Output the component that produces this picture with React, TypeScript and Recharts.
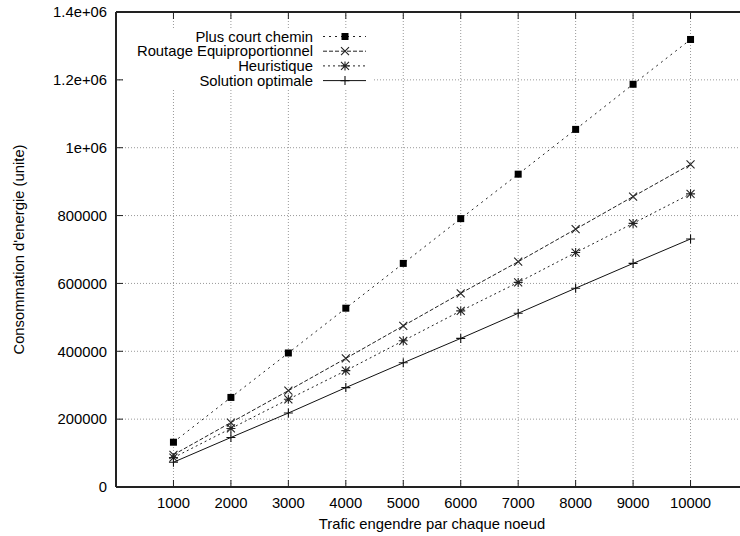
import React from 'react';
import { LineChart, Line, XAxis, YAxis, CartesianGrid, Legend, Label } from 'recharts';

// valeurs
const trafic = [1000, 2000, 3000, 4000, 5000, 6000, 7000, 8000, 9000, 10000];
const plusCourtChemin = [132000, 264000, 395000, 527000, 659000, 791000, 922000, 1054000, 1187000, 1319000];
const routageEquiproportionnel = [95000, 190000, 284000, 379000, 475000, 571000, 664000, 760000, 856000, 951000];
const heuristique = [86500, 172500, 258500, 343000, 431000, 519000, 603000, 691000, 777000, 864000];
const solutionOptimale = [73000, 146000, 218000, 293000, 366000, 438000, 512000, 586000, 659000, 731000];

const xTicks = [1000, 2000, 3000, 4000, 5000, 6000, 7000, 8000, 9000, 10000];
const yTicks = [0, 200000, 400000, 600000, 800000, 1000000, 1200000, 1400000];
const yTickLabels = ['0', '200000', '400000', '600000', '800000', '1e+06', '1.2e+06', '1.4e+06'];

const data = trafic.map((t, i) => ({
  trafic: t,
  pcc: plusCourtChemin[i],
  routage: routageEquiproportionnel[i],
  heur: heuristique[i],
  opt: solutionOptimale[i],
}));

type MarkerKind = 'square' | 'cross' | 'star' | 'plus';

const series: { key: string; name: string; marker: MarkerKind; dash?: string; color: string }[] = [
  { key: 'pcc', name: 'Plus court chemin', marker: 'square', dash: '2 4', color: '#222' },
  { key: 'routage', name: 'Routage Equiproportionnel', marker: 'cross', dash: '4 2', color: '#222' },
  { key: 'heur', name: 'Heuristique', marker: 'star', dash: '2 3', color: '#222' },
  { key: 'opt', name: 'Solution optimale', marker: 'plus', color: '#111' },
];

const FONT = '"Liberation Sans", Arial, Helvetica, sans-serif';
const FS = 14.8;

function Marker({ kind, cx, cy, color }: { kind: MarkerKind; cx: number; cy: number; color: string }) {
  const s = 4;
  const cross = `M${cx - s},${cy - s}L${cx + s},${cy + s}M${cx - s},${cy + s}L${cx + s},${cy - s}`;
  const plus = `M${cx - s - 0.5},${cy}L${cx + s + 0.5},${cy}M${cx},${cy - s - 0.5}L${cx},${cy + s + 0.5}`;
  if (kind === 'square') return <rect x={cx - 3.5} y={cy - 3.5} width={7} height={7} fill="#000" />;
  if (kind === 'cross') return <path d={cross} stroke={color} strokeWidth={1.1} fill="none" />;
  if (kind === 'star') return <path d={cross + plus} stroke={color} strokeWidth={1.1} fill="none" />;
  return <path d={plus} stroke={color} strokeWidth={1.1} fill="none" />;
}

const renderLegend = () => (
  <svg width={250} height={60} style={{ display: 'block', background: '#fff' }}>
    {series.map((s, i) => {
      const y = 7.5 + i * 14.7;
      return (
        <g key={s.key}>
          <text x={190} y={y} textAnchor="end" dominantBaseline="central" fontSize={FS} fontFamily={FONT} fill="#000">
            {s.name}
          </text>
          <line x1={200} x2={243} y1={y} y2={y} stroke={s.color} strokeWidth={1} strokeDasharray={s.dash} />
          <Marker kind={s.marker} cx={222} cy={y} color={s.color} />
        </g>
      );
    })}
  </svg>
);

const renderYTitle = (props: any) => {
  const vb = props.viewBox || { x: 0, y: 12, width: 116, height: 475 };
  const cx = vb.x + 19;
  const cy = vb.y + vb.height / 2;
  return (
    <text x={cx} y={cy} transform={`rotate(-90 ${cx} ${cy})`} textAnchor="middle" dominantBaseline="central" fontSize={FS} fontFamily={FONT} fill="#000">
      Consommation d'energie (unite)
    </text>
  );
};

const renderXTitle = (props: any) => {
  const vb = props.viewBox || { x: 116, y: 487, width: 632, height: 49 };
  return (
    <text x={vb.x + vb.width / 2} y={vb.y + 42} textAnchor="middle" fontSize={FS} fontFamily={FONT} fill="#000">
      Trafic engendre par chaque noeud
    </text>
  );
};

const noLabel = () => <g />;

export default function App() {
  return (
    <div style={{ position: 'fixed', left: 0, top: 0, width: 740, height: 536, overflow: 'hidden', background: '#fff' }}>
      <LineChart width={760} height={536} data={data} margin={{ top: 0, right: 12, bottom: 0, left: 0 }}>
        <CartesianGrid stroke="#999" strokeDasharray="1 2" strokeWidth={1} />
        <XAxis
          dataKey="trafic"
          type="number"
          domain={[0, 11000]}
          ticks={xTicks}
          height={49}
          tickSize={-7}
          tickMargin={17}
          stroke="#222"
          axisLine={{ stroke: '#222', strokeWidth: 2 }}
          tickLine={{ stroke: '#222', strokeWidth: 1 }}
          tick={{ fontSize: FS, fill: '#000', fontFamily: FONT }}
        >
          <Label content={renderXTitle} />
        </XAxis>
        <XAxis
          xAxisId="top"
          orientation="top"
          dataKey="trafic"
          type="number"
          domain={[0, 11000]}
          allowDataOverflow
          ticks={xTicks}
          height={12}
          tickSize={-7}
          axisLine={{ stroke: '#222', strokeWidth: 2 }}
          tickLine={{ stroke: '#222', strokeWidth: 1 }}
          tick={noLabel}
        />
        <YAxis
          type="number"
          domain={[0, 1400000]}
          ticks={yTicks}
          width={116}
          tickSize={-7}
          tickMargin={16}
          axisLine={{ stroke: '#222', strokeWidth: 2 }}
          tickLine={{ stroke: '#222', strokeWidth: 1 }}
          tick={{ fontSize: FS, fill: '#000', fontFamily: FONT }}
          tickFormatter={(v: number) => yTickLabels[yTicks.indexOf(v)] ?? String(v)}
        >
          <Label content={renderYTitle} />
        </YAxis>
        <Legend
          layout="horizontal"
          verticalAlign="middle"
          align="center"
          content={renderLegend}
          wrapperStyle={{ left: 123, top: 29, width: 250, height: 60 }}
        />
        {series.map((s) => (
          <Line
            key={s.key}
            dataKey={s.key}
            name={s.name}
            type="linear"
            stroke={s.color}
            strokeWidth={1}
            strokeDasharray={s.dash}
            isAnimationActive={false}
            dot={(p: any) => <Marker key={`${s.key}-${p.index}`} kind={s.marker} cx={p.cx} cy={p.cy} color={s.color} />}
            activeDot={false}
          />
        ))}
      </LineChart>
    </div>
  );
}
